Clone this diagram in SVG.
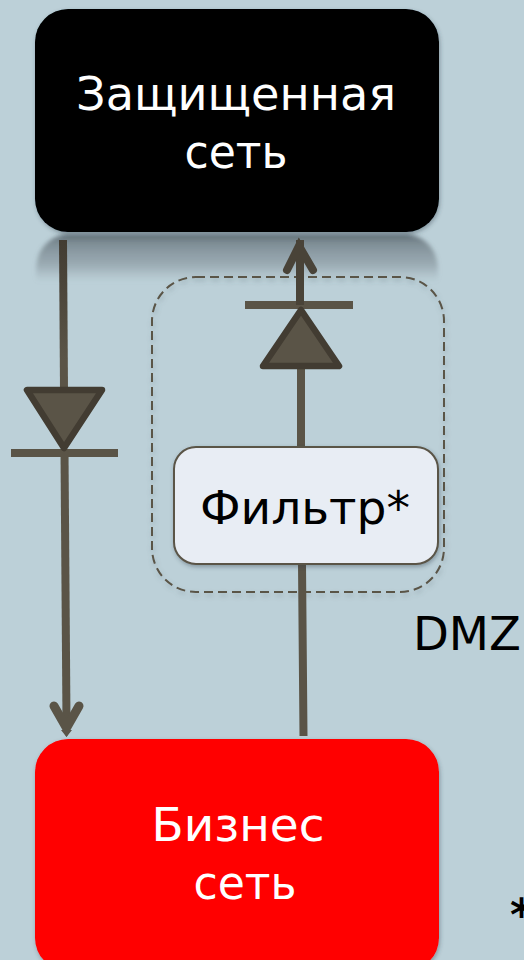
<svg xmlns="http://www.w3.org/2000/svg" width="524" height="960" viewBox="0 0 524 960">
<defs>
<linearGradient id="refl" x1="0" y1="0" x2="0" y2="1"><stop offset="0" stop-color="#46525a" stop-opacity=".8"/><stop offset=".2" stop-color="#5a666e" stop-opacity=".62"/><stop offset=".65" stop-color="#6f7b82" stop-opacity=".42"/><stop offset="1" stop-color="#8a969c" stop-opacity="0"/></linearGradient>
<linearGradient id="line" gradientUnits="userSpaceOnUse" x1="0" y1="240" x2="0" y2="360"><stop offset="0" stop-color="#423c32"/><stop offset="1" stop-color="#5a5447"/></linearGradient>
<filter id="sh" x="-10%" y="-10%" width="120%" height="125%"><feDropShadow dx="1" dy="2" stdDeviation="2" flood-color="#33414a" flood-opacity=".4"/></filter>
<filter id="sh2" x="-5%" y="-5%" width="110%" height="110%"><feDropShadow dx="1" dy="3" stdDeviation="2.500" flood-color="#55656d" flood-opacity=".35"/></filter>
<filter id="soft" x="-5%" y="-10%" width="110%" height="120%"><feGaussianBlur stdDeviation="2"/></filter>
</defs>
<style>
text{font-family:"DejaVu Sans",Verdana,sans-serif;text-anchor:middle}
.w{fill:#fff;font-size:47px}
.k{fill:#000;font-size:47px}
.c{fill:none;stroke:#5a5447;stroke-width:8}
.d{fill:#5a5447;stroke:#423c32;stroke-width:6.500;stroke-linejoin:round}
.a{fill:none;stroke:#5a5447;stroke-width:9;stroke-linecap:round;stroke-linejoin:miter}
</style>
<rect width="524" height="960" fill="#bcd0d8"/>
<path d="M36 282V272Q36 240 66 234H408Q438 240 438 272V282Z" fill="url(#refl)" filter="url(#soft)"/>
<g id="dmz"><rect x="152" y="277" width="292" height="315" rx="44" fill="none" stroke="#5a5447" stroke-width="2" stroke-dasharray="9 5" filter="url(#sh2)"/></g>
<g id="connectors">
<path d="M63 240L64 390" fill="none" stroke="url(#line)" stroke-width="8"/>
<path d="M64.500 452L66.500 722" class="c"/>
<path d="M11 453H118M245 305H353" fill="none" stroke="#5a5447" stroke-width="8"/>
<path d="M27 390H102L64 448Z" class="d"/>
<path d="M300 240V305" fill="none" stroke="#494338" stroke-width="8"/>
<path d="M301 366V450M302 564L303.500 736" class="c"/>
<path d="M301 310L339 366H263Z" class="d"/>
<path d="M287 270L299 246L313 270" class="a" style="stroke:#494338;stroke-width:8"/>
<path d="M295 248L299 238L303 248Z" fill="#494338"/>
<path d="M54 706L66.500 728L79 706" class="a"/>
<path d="M61 730L66.500 737L72 730Z" fill="#5a5447"/>
</g>
<g id="protected"><rect x="35" y="9" width="404" height="223" rx="33" fill="#000" filter="url(#sh)"/><text class="w" x="236" y="110" textLength="320" lengthAdjust="spacingAndGlyphs">Защищенная</text><text class="w" x="236" y="168" textLength="103" lengthAdjust="spacingAndGlyphs">сеть</text></g>
<g id="filter-node"><rect x="174" y="447" width="264" height="117" rx="22" fill="#e8edf4" stroke="#5a5447" stroke-width="2" filter="url(#sh)"/><text class="k" x="305" y="524" textLength="210" lengthAdjust="spacingAndGlyphs">Фильтр*</text></g>
<g id="business"><rect x="35" y="739" width="404" height="232" rx="33" fill="#f00" filter="url(#sh)"/><text class="w" x="238" y="841" textLength="173" lengthAdjust="spacingAndGlyphs">Бизнес</text><text class="w" x="245" y="899" textLength="103" lengthAdjust="spacingAndGlyphs">сеть</text></g>
<g id="labels"><text class="k" x="467" y="650" textLength="108" lengthAdjust="spacingAndGlyphs">DMZ</text><text x="510" y="930" style="text-anchor:start;font-size:44px;font-weight:bold" fill="#000">*</text></g>
</svg>
